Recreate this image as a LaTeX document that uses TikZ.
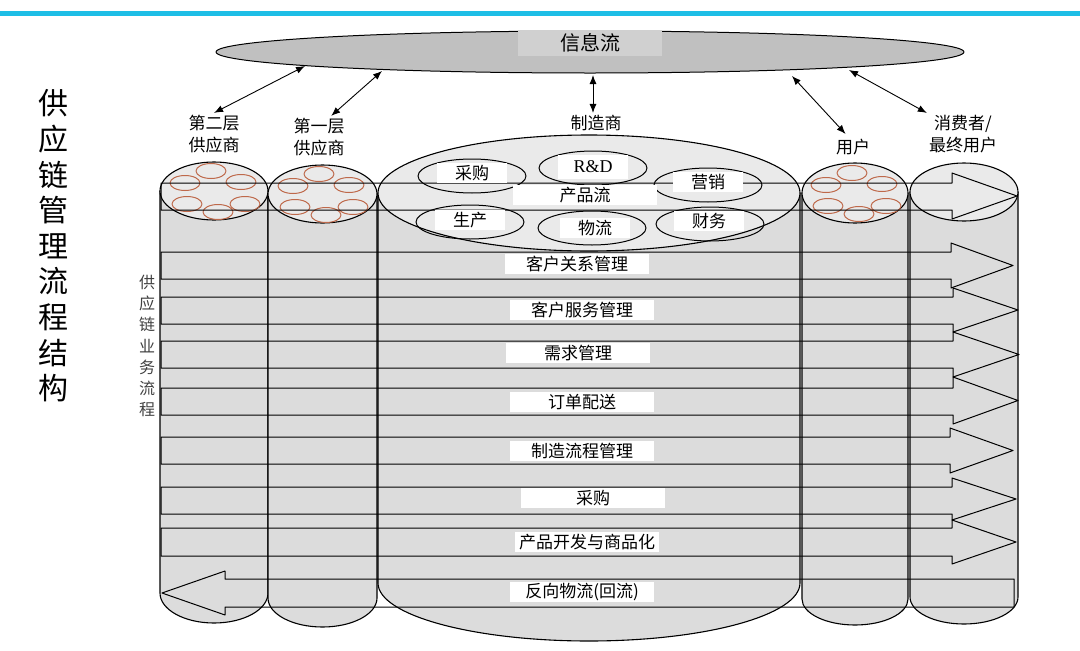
\documentclass[tikz,border=0pt]{standalone}
\usepackage{fontspec}
\setmainfont{Liberation Serif}
\newfontfamily\cjk{Noto Sans CJK SC}
\usetikzlibrary{arrows.meta}
\definecolor{topline}{RGB}{30,190,230}
\definecolor{ringred}{RGB}{190,105,75}
\definecolor{cylgray}{RGB}{220,220,220}
\definecolor{capgray}{RGB}{234,234,234}
\definecolor{infogray}{RGB}{192,192,192}
\definecolor{boxgray}{RGB}{208,208,208}
\begin{document}
\begin{tikzpicture}[x=1pt, y=-1pt, line join=round,
  cyl/.style={draw, line width=1.1pt, fill=cylgray},
  lid/.style={draw, line width=1.1pt, fill=capgray},
  ring/.style={draw=ringred, line width=1pt},
  flow/.style={draw, line width=1pt},
  tag/.style={fill=white, inner sep=0pt, minimum height=20pt, font=\cjk\fontsize{17}{20}\selectfont},
  lbl/.style={align=center, inner sep=2pt, font=\cjk\fontsize{17}{22}\selectfont},
  dbl/.style={{Latex[length=9pt,width=7pt]}-{Latex[length=9pt,width=7pt]}, line width=0.9pt}]
  \useasboundingbox (0,0) rectangle (1080,651);
  % blue rule on top
  \draw[topline, line width=5pt] (0,13) -- (1080,13);
  % information flow
  \filldraw[fill=infogray, line width=1pt] (590,52) ellipse (374 and 21);
  \node[fill=boxgray, minimum width=144pt, minimum height=24pt, font=\cjk\fontsize{20}{24}\selectfont] (info) at (590,43) {信息流};
  % the five cylinders
  \foreach \l/\r/\t/\rt/\b/\rb in {160/268/191/29/593/30, 268/377/194/29/598/29, 378/800/193/58/583/58,
                                   802/908/193/30/599/26, 910/1018/192/29/597/27} {
    \path[cyl] (\l,\t) -- (\l,\b) arc[start angle=180, end angle=0, x radius={(\r-\l)/2}, y radius=\rb] -- (\r,\t) -- cycle;
    \path[lid] ({(\l+\r)/2},\t) ellipse [x radius={(\r-\l)/2}, y radius=\rt];
  }
  % suppliers and users: small rings
  \foreach \cx/\cy in {214/191, 322/194, 855/193}
    \foreach \dx/\dy in {-3/-20, -29/-8, 27/-9, -27/13, 31/13, 4/21}
      \draw[ring] (\cx+\dx,\cy+\dy) ellipse (15 and 7.5);
  % manufacturer functions
  \foreach \x/\y in {472/176, 593/168, 708/185, 470/222, 592/228, 710/224}
    \draw[line width=1pt] (\x,\y) ellipse (54 and 17);
  % process arrows
  \foreach \t/\b/\ht/\hb/\n/\tip in {183/210/173/219/952/1017, 252/279/243/288/951/1013, 297/324/288/332/953/1018,
                                     341/368/332/377/953/1019, 388/415/377/424/953/1018, 437/464/428/473/950/1013,
                                     487/514/478/520/952/1016, 528/556/520/564/952/1016}
    \draw[flow] (161,\t) -- (\n,\t) -- (\n,\ht) -- (\tip,{(\ht+\hb)/2}) -- (\n,\hb) -- (\n,\b) -- (161,\b) -- cycle;
  \draw[flow] (1014,579) -- (225,579) -- (225,571) -- (162,593) -- (225,615) -- (225,607) -- (1014,607) -- cycle;
  % labels on the arrows
  \foreach \nm/\x/\y/\s in {pf/585/195/产品流, crm/577/264/客户关系管理, csm/582/310/客户服务管理, dm/578/353/需求管理,
                            od/582/402/订单配送, mfm/582/451/制造流程管理, pur/593/498/采购, pd/587/542/产品开发与商品化,
                            rl/582/592/反向物流(回流)}
    \node[tag, minimum width=144pt] (\nm) at (\x,\y) {\s};
  \foreach \nm/\x/\y/\s in {cg/472/173/采购, mk/708/182/营销, sc/470/220/生产, wl/595/228/物流, cw/709/221/财务}
    \node[tag, minimum width=70pt] (\nm) at (\x,\y) {\s};
  \node[tag, minimum width=70pt, minimum height=24pt, font=\fontsize{18}{20}\selectfont] (rd) at (593,167) {R\&D};
  % members of the chain
  \node[lbl] (s2) at (214,134) {第二层\\供应商};
  \node[lbl] (s1) at (319,137) {第一层\\供应商};
  \node[lbl] (mf) at (596,123) {制造商};
  \node[lbl] (us) at (853,147) {用户};
  \node[lbl] (cs) at (963,134) {消费者/\\最终用户};
  \coordinate (i1) at (305,66);
  \coordinate (i2) at (382,71);
  \coordinate (i3) at (593,75);
  \coordinate (i4) at (792,76);
  \coordinate (i5) at (849,70);
  \draw[dbl] (i1) -- (s2.north);
  \draw[dbl] (i2) -- (s1.60);
  \draw[dbl] (i3) -- (mf.north -| i3);
  \draw[dbl, shorten >=4pt] (i4) -- (us.115);
  \draw[dbl] (i5) -- (cs.north west);
  % vertical titles
  \node[align=center, inner sep=0pt, font=\cjk\fontsize{30}{35.6}\selectfont] (title) at (53,246)
    {供\\应\\链\\管\\理\\流\\程\\结\\构};
  \node[align=center, inner sep=0pt, text=black!75, font=\cjk\fontsize{16}{21.3}\selectfont] (sub) at (147,346)
    {供\\应\\链\\业\\务\\流\\程};
\end{tikzpicture}
\end{document}
